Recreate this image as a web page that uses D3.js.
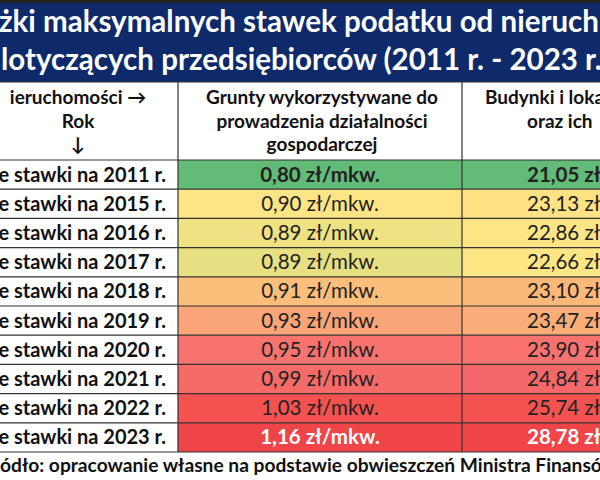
<!DOCTYPE html><html><head><meta charset="utf-8"><script src="https://cdn.jsdelivr.net/npm/d3@7"></script>
<style>body{margin:0;background:#fff}svg{display:block}</style></head><body><svg width="600" height="480"></svg>
<script>
const titleLines=["żki maksymalnych stawek podatku od nieruch","lotyczących przedsiębiorców (2011 r. - 2023 r."];
const headerCol1=["ieruchomości →","Rok","↓"];
const headerCol2=["Grunty wykorzystywane do","prowadzenia działalności","gospodarczej"];
const headerCol3=["Budynki i loka","oraz ich"];
const years=[2011,2015,2016,2017,2018,2019,2020,2021,2022,2023];
const grunty=["0,80","0,90","0,89","0,89","0,91","0,93","0,95","0,99","1,03","1,16"];
const budynki=["21,05","23,13","22,86","22,66","23,10","23,47","23,90","24,84","25,74","28,78"];
const colors2=["#63bb78","#fde485","#efe283","#e6e083","#fcbf7b","#f9a577","#f8736f","#f66a68","#f3524f","#ef4549"];
const colors3=["#63bb78","#fee283","#fde585","#fee684","#fbb878","#faac79","#f8736f","#f5686a","#f3524f","#ef4549"];
const footer="ódło: opracowanie własne na podstawie obwieszczeń Ministra Finansó";

const svg=d3.select("svg");
const F="Lato, 'Open Sans', sans-serif";
const cols=[-20,178,462,700];
const y=d3.scaleBand().domain(years).range([160,452]);
svg.append("rect").attr("x",0).attr("y",0).attr("width",600).attr("height",82).attr("fill","#0e2a6b");
svg.append("rect").attr("x",0).attr("y",0).attr("width",600).attr("height",3).attr("fill","#222");
svg.selectAll(".t").data(titleLines).join("text").attr("x",(d,i)=>i?1:-1).attr("y",(d,i)=>32+i*38)
 .attr("fill","#fff").attr("font-family",F).attr("font-weight","bold").attr("font-size",29.5).text(d=>d);
// header
const hdr=[[headerCol1,78,"middle"],[headerCol2,322,"middle"]];
hdr.forEach(([lines,cx,a])=>{lines.forEach((l,i)=>svg.append("text").attr("x",cx).attr("y",104+i*23.5)
 .attr("text-anchor",a).attr("font-family",F).attr("font-weight","bold").attr("font-size",19).attr("fill","#111").text(l));});
headerCol3.forEach((l,i)=>svg.append("text").attr("x",i?527:485).attr("y",104+i*23.5)
 .attr("font-family",F).attr("font-weight","bold").attr("font-size",19).attr("fill","#111").text(l));
// cells
years.forEach((yr,i)=>{
 const yy=y(yr),h=y.bandwidth();
 svg.append("rect").attr("x",cols[1]).attr("y",yy).attr("width",cols[2]-cols[1]).attr("height",h).attr("fill",colors2[i]);
 svg.append("rect").attr("x",cols[2]).attr("y",yy).attr("width",cols[3]-cols[2]).attr("height",h).attr("fill",colors3[i]);
 const bold=(i===0||i===9), col=i===9?"#fff":"#222";
 svg.append("text").attr("x",166).attr("y",yy+h/2+7).attr("text-anchor","end").attr("font-family",F).attr("font-weight","bold").attr("font-size",20).attr("fill","#111").text("e stawki na "+yr+" r.");
 svg.append("text").attr("x",320).attr("y",yy+h/2+7).attr("text-anchor","middle").attr("font-family",F).attr("font-weight",bold?"bold":"normal").attr("font-size",20.5).attr("fill",col).text(grunty[i]+" zł/mkw.");
 svg.append("text").attr("x",527).attr("y",yy+h/2+7).attr("font-family",F).attr("font-weight",bold?"bold":"normal").attr("font-size",20.5).attr("fill",col).text(budynki[i]+" zł/mkw.");
});
// grid
const g=svg.append("g").attr("stroke","#333").attr("stroke-width",1.2);
[82,160].concat(years.map(d=>y(d)+y.bandwidth())).forEach(v=>g.append("line").attr("x1",0).attr("x2",600).attr("y1",v).attr("y2",v));
[178,462].forEach(v=>g.append("line").attr("x1",v).attr("x2",v).attr("y1",82).attr("y2",452));
svg.append("text").attr("x",0).attr("y",472).attr("font-family",F).attr("font-weight","bold").attr("font-size",19.2).attr("fill","#111").text(footer);
</script></body></html>
